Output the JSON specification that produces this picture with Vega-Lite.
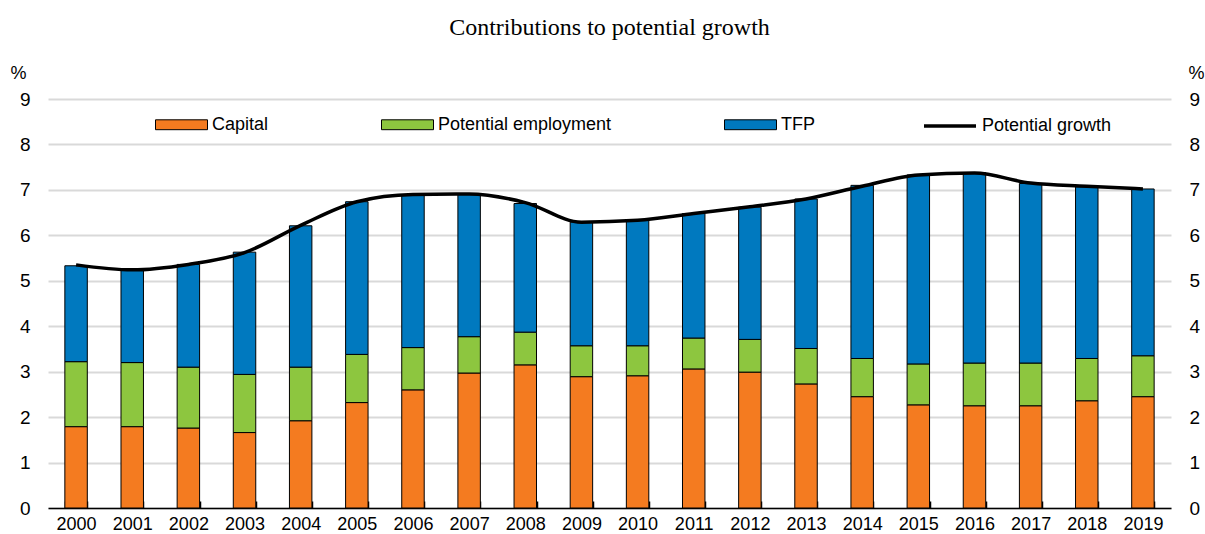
{
  "$schema": "https://vega.github.io/schema/vega-lite/v6.json",
  "width": 1123,
  "height": 409,
  "autosize": {"type": "none"},
  "padding": {"left": 48, "top": 99, "right": 34, "bottom": 26},
  "background": "white",
  "title": {"text": "Contributions to potential growth", "font": "Liberation Serif", "fontSize": 24, "fontWeight": "normal", "color": "black", "anchor": "middle", "offset": 24},
  "datasets": {
    "bars": [
      {"year": "2000", "component": "Capital", "o": 1, "value": 1.79},
      {"year": "2000", "component": "Potential employment", "o": 2, "value": 1.43},
      {"year": "2000", "component": "TFP", "o": 3, "value": 2.11},
      {"year": "2001", "component": "Capital", "o": 1, "value": 1.79},
      {"year": "2001", "component": "Potential employment", "o": 2, "value": 1.41},
      {"year": "2001", "component": "TFP", "o": 3, "value": 2.04},
      {"year": "2002", "component": "Capital", "o": 1, "value": 1.76},
      {"year": "2002", "component": "Potential employment", "o": 2, "value": 1.34},
      {"year": "2002", "component": "TFP", "o": 3, "value": 2.26},
      {"year": "2003", "component": "Capital", "o": 1, "value": 1.66},
      {"year": "2003", "component": "Potential employment", "o": 2, "value": 1.28},
      {"year": "2003", "component": "TFP", "o": 3, "value": 2.69},
      {"year": "2004", "component": "Capital", "o": 1, "value": 1.92},
      {"year": "2004", "component": "Potential employment", "o": 2, "value": 1.18},
      {"year": "2004", "component": "TFP", "o": 3, "value": 3.11},
      {"year": "2005", "component": "Capital", "o": 1, "value": 2.32},
      {"year": "2005", "component": "Potential employment", "o": 2, "value": 1.06},
      {"year": "2005", "component": "TFP", "o": 3, "value": 3.36},
      {"year": "2006", "component": "Capital", "o": 1, "value": 2.60},
      {"year": "2006", "component": "Potential employment", "o": 2, "value": 0.93},
      {"year": "2006", "component": "TFP", "o": 3, "value": 3.36},
      {"year": "2007", "component": "Capital", "o": 1, "value": 2.97},
      {"year": "2007", "component": "Potential employment", "o": 2, "value": 0.80},
      {"year": "2007", "component": "TFP", "o": 3, "value": 3.13},
      {"year": "2008", "component": "Capital", "o": 1, "value": 3.15},
      {"year": "2008", "component": "Potential employment", "o": 2, "value": 0.72},
      {"year": "2008", "component": "TFP", "o": 3, "value": 2.83},
      {"year": "2009", "component": "Capital", "o": 1, "value": 2.89},
      {"year": "2009", "component": "Potential employment", "o": 2, "value": 0.68},
      {"year": "2009", "component": "TFP", "o": 3, "value": 2.72},
      {"year": "2010", "component": "Capital", "o": 1, "value": 2.91},
      {"year": "2010", "component": "Potential employment", "o": 2, "value": 0.66},
      {"year": "2010", "component": "TFP", "o": 3, "value": 2.77},
      {"year": "2011", "component": "Capital", "o": 1, "value": 3.06},
      {"year": "2011", "component": "Potential employment", "o": 2, "value": 0.68},
      {"year": "2011", "component": "TFP", "o": 3, "value": 2.74},
      {"year": "2012", "component": "Capital", "o": 1, "value": 2.99},
      {"year": "2012", "component": "Potential employment", "o": 2, "value": 0.72},
      {"year": "2012", "component": "TFP", "o": 3, "value": 2.91},
      {"year": "2013", "component": "Capital", "o": 1, "value": 2.73},
      {"year": "2013", "component": "Potential employment", "o": 2, "value": 0.78},
      {"year": "2013", "component": "TFP", "o": 3, "value": 3.29},
      {"year": "2014", "component": "Capital", "o": 1, "value": 2.45},
      {"year": "2014", "component": "Potential employment", "o": 2, "value": 0.84},
      {"year": "2014", "component": "TFP", "o": 3, "value": 3.81},
      {"year": "2015", "component": "Capital", "o": 1, "value": 2.27},
      {"year": "2015", "component": "Potential employment", "o": 2, "value": 0.90},
      {"year": "2015", "component": "TFP", "o": 3, "value": 4.16},
      {"year": "2016", "component": "Capital", "o": 1, "value": 2.25},
      {"year": "2016", "component": "Potential employment", "o": 2, "value": 0.94},
      {"year": "2016", "component": "TFP", "o": 3, "value": 4.19},
      {"year": "2017", "component": "Capital", "o": 1, "value": 2.25},
      {"year": "2017", "component": "Potential employment", "o": 2, "value": 0.94},
      {"year": "2017", "component": "TFP", "o": 3, "value": 3.95},
      {"year": "2018", "component": "Capital", "o": 1, "value": 2.36},
      {"year": "2018", "component": "Potential employment", "o": 2, "value": 0.93},
      {"year": "2018", "component": "TFP", "o": 3, "value": 3.78},
      {"year": "2019", "component": "Capital", "o": 1, "value": 2.45},
      {"year": "2019", "component": "Potential employment", "o": 2, "value": 0.90},
      {"year": "2019", "component": "TFP", "o": 3, "value": 3.67}
    ],
    "line": [
      {"year": "2000", "series": "Potential growth", "pg": 5.35},
      {"year": "2001", "series": "Potential growth", "pg": 5.24},
      {"year": "2002", "series": "Potential growth", "pg": 5.36},
      {"year": "2003", "series": "Potential growth", "pg": 5.62},
      {"year": "2004", "series": "Potential growth", "pg": 6.22},
      {"year": "2005", "series": "Potential growth", "pg": 6.74},
      {"year": "2006", "series": "Potential growth", "pg": 6.90},
      {"year": "2007", "series": "Potential growth", "pg": 6.91},
      {"year": "2008", "series": "Potential growth", "pg": 6.72},
      {"year": "2009", "series": "Potential growth", "pg": 6.29},
      {"year": "2010", "series": "Potential growth", "pg": 6.33},
      {"year": "2011", "series": "Potential growth", "pg": 6.48},
      {"year": "2012", "series": "Potential growth", "pg": 6.63},
      {"year": "2013", "series": "Potential growth", "pg": 6.80},
      {"year": "2014", "series": "Potential growth", "pg": 7.08},
      {"year": "2015", "series": "Potential growth", "pg": 7.33},
      {"year": "2016", "series": "Potential growth", "pg": 7.37},
      {"year": "2017", "series": "Potential growth", "pg": 7.15},
      {"year": "2018", "series": "Potential growth", "pg": 7.08},
      {"year": "2019", "series": "Potential growth", "pg": 7.02}
    ]
  },
  "layer": [
    {
      "data": {"name": "bars"},
      "mark": {"type": "bar", "stroke": "black", "strokeWidth": 1},
      "encoding": {
        "x": {
          "field": "year", "type": "ordinal",
          "scale": {"paddingInner": 0.6, "paddingOuter": 0.3},
          "axis": {"title": null, "labelAngle": 0, "labelFontSize": 18, "labelColor": "black", "domainColor": "black", "domainWidth": 1.5, "tickColor": "black", "tickWidth": 1.5, "tickSize": -7, "tickBand": "extent", "labelPadding": 14, "grid": false}
        },
        "y": {
          "field": "value", "type": "quantitative", "stack": "zero",
          "scale": {"domain": [0, 9]},
          "axis": {"orient": "left", "title": "%", "titleAngle": 0, "titleX": -30, "titleY": -26, "titleAlign": "center", "titleBaseline": "middle", "titleFontSize": 18, "titleFontWeight": "normal", "titleColor": "black", "values": [0,1,2,3,4,5,6,7,8,9], "labelFontSize": 19, "labelColor": "black", "labelPadding": 18, "ticks": false, "domain": false, "grid": true, "gridColor": "#d9d9d9", "gridWidth": 2}
        },
        "fill": {
          "field": "component", "type": "nominal",
          "scale": {"domain": ["Capital", "Potential employment", "TFP"], "range": ["#f47b20", "#8dc63f", "#0079bf"]},
          "legend": {"title": null, "orient": "none", "legendX": 107, "legendY": -1, "direction": "horizontal", "symbolType": "M-1,-0.19H1V0.19H-1Z", "symbolSize": 2704, "symbolStrokeColor": "black", "symbolStrokeWidth": 1, "symbolOpacity": 1, "labelFontSize": 18, "labelColor": "black", "labelLimit": 400, "columnPadding": 110, "labelOffset": 4}
        },
        "order": {"field": "o", "type": "quantitative"}
      }
    },
    {
      "data": {"name": "line"},
      "mark": {"type": "line", "interpolate": "monotone", "strokeWidth": 3.5},
      "encoding": {
        "x": {"field": "year", "type": "ordinal"},
        "y": {
          "field": "pg", "type": "quantitative",
          "scale": {"domain": [0, 9]},
          "axis": {"orient": "right", "title": "%", "titleAngle": 0, "titleX": 25, "titleY": -26, "titleAlign": "center", "titleBaseline": "middle", "titleFontSize": 18, "titleFontWeight": "normal", "titleColor": "black", "values": [0,1,2,3,4,5,6,7,8,9], "labelFontSize": 19, "labelColor": "black", "labelPadding": 18, "ticks": false, "domain": false, "grid": false}
        },
        "stroke": {
          "field": "series", "type": "nominal",
          "scale": {"range": ["black"]},
          "legend": {"title": null, "orient": "none", "legendX": 874, "legendY": -1, "symbolType": "stroke", "symbolSize": 2704, "symbolStrokeWidth": 3.5, "labelFontSize": 18, "labelColor": "black", "labelLimit": 400, "labelOffset": 4}
        }
      }
    }
  ],
  "resolve": {"axis": {"y": "independent"}},
  "config": {"font": "Liberation Sans", "view": {"stroke": null}}
}
